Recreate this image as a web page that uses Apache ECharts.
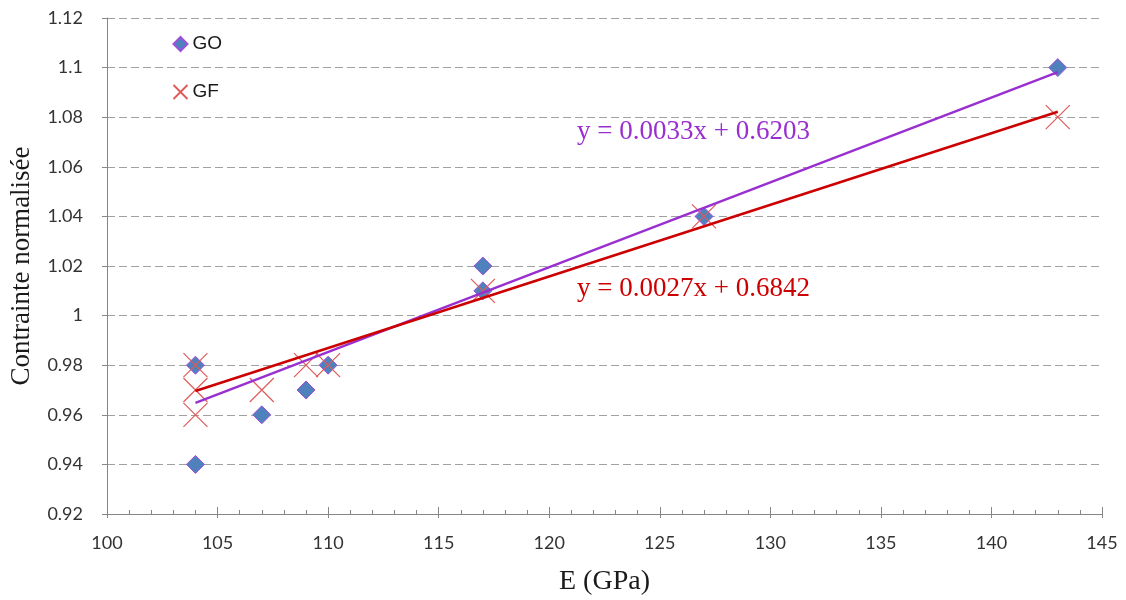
<!DOCTYPE html>
<html>
<head>
<meta charset="utf-8">
<script src="https://cdn.jsdelivr.net/npm/echarts@6/dist/echarts.min.js"></script>
<style>
html,body{margin:0;padding:0;background:#fff;}
#chart{width:1126px;height:600px;}
</style>
</head>
<body>
<div id="chart"></div>
<script>
// ---- data ----
var goData = [[104,0.98],[104,0.94],[107,0.96],[109,0.97],[110,0.98],[117,1.02],[117,1.01],[127,1.04],[143,1.10]];
var gfData = [[104,0.98],[104,0.97],[104,0.96],[107,0.97],[109,0.98],[110,0.98],[117,1.01],[127,1.04],[143,1.08]];
var goTrend = [[104,0.9648],[143,1.0982]];
var gfTrend = [[104,0.9696],[143,1.0822]];
var goEquation = 'y = 0.0033x + 0.6203';
var gfEquation = 'y = 0.0027x + 0.6842';
var xName = 'E (GPa)';
var yName = 'Contrainte normalisée';
var xMin = 100, xMax = 145, xStep = 5;
var yMin = 0.92, yMax = 1.12, yStep = 0.02;

var crossPath = 'path://M0,0 L10,10 M10,0 L0,10';
var axisGray = '#868686';
var chart = echarts.init(document.getElementById('chart'));
chart.setOption({
  animation: false,
  grid: {left: 107, right: 24, top: 18, bottom: 86, outerBoundsMode: 'none', containLabel: false},
  legend: {
    orient: 'vertical', left: 171, top: 34, padding: 0,
    itemWidth: 14, itemHeight: 14, itemGap: 28,
    textStyle: {fontFamily: 'Liberation Sans', fontSize: 19, color: '#1a1a1a', lineHeight: 20},
    data: [{name: 'GO', icon: 'diamond'}, {name: 'GF', icon: crossPath}]
  },
  xAxis: [{
    type: 'value', min: xMin, max: xMax, interval: xStep,
    name: xName, nameLocation: 'middle', nameGap: 54,
    nameTextStyle: {fontFamily: 'Liberation Serif', fontSize: 28, color: '#1a1a1a'},
    axisLine: {show: true, lineStyle: {color: axisGray, width: 1}},
    axisTick: {show: true, inside: true, length: 7, lineStyle: {color: axisGray}},
    minorTick: {show: true, splitNumber: 5, length: 4, lineStyle: {color: axisGray}},
    axisLabel: {margin: 20, fontFamily: 'Lato', fontSize: 18, color: '#333'},
    splitLine: {show: false}
  }, {
    type: 'value', min: xMin, max: xMax, interval: xStep, position: 'bottom',
    axisLine: {show: false},
    axisTick: {show: true, inside: false, length: 4, lineStyle: {color: axisGray}},
    axisLabel: {show: false},
    splitLine: {show: false}
  }],
  yAxis: {
    type: 'value', min: yMin, max: yMax, interval: yStep,
    name: yName, nameLocation: 'middle', nameGap: 72,
    nameTextStyle: {fontFamily: 'Liberation Serif', fontSize: 27, color: '#1a1a1a'},
    axisLine: {show: true, lineStyle: {color: axisGray, width: 1}},
    axisTick: {show: true, inside: false, length: 5, lineStyle: {color: axisGray}},
    axisLabel: {margin: 24, fontFamily: 'Lato', fontSize: 18, color: '#333',
      formatter: function(v){ return String(+v.toFixed(2)); }},
    splitLine: {show: true, lineStyle: {color: '#a0a0a0', width: 1, type: [8, 4]}}
  },
  series: [{
    name: 'GO', type: 'scatter', data: goData, symbol: 'diamond', symbolSize: 18,
    itemStyle: {color: '#4F81BD', borderColor: '#A050D8', borderWidth: 1, opacity: 1},
    z: 2
  }, {
    name: 'GF', type: 'scatter', data: gfData, symbol: crossPath, symbolSize: 24,
    itemStyle: {color: 'none', borderColor: '#E05A5A', borderWidth: 1.2, opacity: 1},
    z: 3
  }, {
    name: 'GO trend', type: 'line', data: goTrend, showSymbol: false, symbol: 'none',
    lineStyle: {color: '#9A2FD0', width: 2.5}, z: 4, silent: true
  }, {
    name: 'GF trend', type: 'line', data: gfTrend, showSymbol: false, symbol: 'none',
    lineStyle: {color: '#CC0000', width: 2.5}, z: 4, silent: true
  }],
  graphic: [{
    type: 'text', left: 577, top: 118,
    style: {text: goEquation, fontFamily: 'Liberation Serif', fontSize: 27, fill: '#9A2FD0'}
  }, {
    type: 'text', left: 577, top: 275,
    style: {text: gfEquation, fontFamily: 'Liberation Serif', fontSize: 27, fill: '#CC0000'}
  }]
});
</script>
</body>
</html>
